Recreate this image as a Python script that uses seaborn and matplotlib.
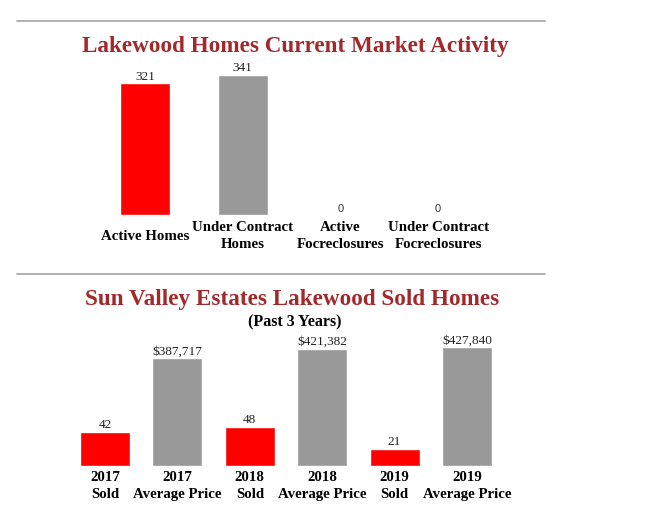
import pandas as pd
import matplotlib
matplotlib.use('Agg')
import matplotlib.pyplot as plt
import seaborn as sns
from matplotlib.lines import Line2D

# Data
market_labels = ["Active Homes", "Under Contract\nHomes", "Active\nFocreclosures", "Under Contract\nFocreclosures"]
market_values = [321, 341, 0, 0]
market_colors = ["#ff0000", "#999999", "#999999", "#999999"]

sold_labels = ["2017\nSold", "2018\nSold", "2019\nSold"]
sold_values = [42, 48, 21]
price_labels = ["2017\nAverage Price", "2018\nAverage Price", "2019\nAverage Price"]
price_values = [387717, 421382, 427840]
sold_order = ["2017\nSold", "2017\nAverage Price", "2018\nSold", "2018\nAverage Price",
              "2019\nSold", "2019\nAverage Price"]

W, H = 653, 520
TITLE_RED = "#a3282a"
SERIF = "Liberation Serif"

sns.set_theme(style="white")
plt.rcParams['font.family'] = [SERIF, 'DejaVu Sans']

fig = plt.figure(figsize=(W / 100, H / 100), dpi=100)
fig.patch.set_facecolor("white")


def px_axes(left, top, right, bottom):
    # pixel box -> figure fraction axes
    return fig.add_axes([left / W, 1 - bottom / H, (right - left) / W, (bottom - top) / H])


def clean(ax):
    for s in ax.spines.values():
        s.set_visible(False)
    ax.set_yticks([])
    ax.set_ylabel("")
    ax.set_xlabel("")
    ax.patch.set_alpha(0)
    ax.tick_params(axis="x", length=0)


# separator lines
for y in (21, 274):
    fig.add_artist(Line2D([17 / W, 545 / W], [1 - y / H, 1 - y / H], color="#aaaaaa", lw=1.3))

# ---- top chart
fig.text(295 / W, 1 - 46.5 / H, "Lakewood Homes Current Market Activity", ha="center", va="center",
         fontsize=16.7, fontweight="bold", color=TITLE_RED, family=SERIF)

df_m = pd.DataFrame({"cat": market_labels, "val": market_values})
ax1 = px_axes(96, 60, 487, 215)
sns.barplot(data=df_m, x="cat", y="val", hue="cat", palette=market_colors, legend=False,
            width=0.51, saturation=1, ax=ax1)
ax1.set_ylim(0, 155 / 0.41)
ax1.set_xlim(-0.5, 3.5)
clean(ax1)
for c in ax1.containers:
    txts = ax1.bar_label(c, padding=0.5, fontsize=9.5, color="#222222", family=SERIF)
    for t in txts:
        if t.get_text() == "0":
            t.set_family("Liberation Sans")
            t.set_fontsize(8)
            t.set_color("#333333")
ax1.tick_params(axis="x", pad=15.3)
for t in ax1.get_xticklabels():
    t.set_va("center")
    t.set_fontweight("bold")
    t.set_fontsize(10.7)
    t.set_color("black")
    t.set_linespacing(1.45)

# ---- bottom chart
fig.text(292 / W, 1 - 300 / H, "Sun Valley Estates Lakewood Sold Homes", ha="center", va="center",
         fontsize=16.7, fontweight="bold", color=TITLE_RED, family=SERIF)
fig.text(295 / W, 1 - 322.5 / H, "(Past 3 Years)", ha="center", va="center",
         fontsize=11.5, fontweight="bold", color="black", family=SERIF)

df_s = pd.DataFrame({"cat": sold_labels, "val": sold_values})
df_p = pd.DataFrame({"cat": price_labels, "val": price_values})

ax2 = px_axes(68.8, 330, 503.2, 466)
sns.barplot(data=df_s, x="cat", y="val", order=sold_order, color="#ff0000", width=0.69,
            saturation=1, ax=ax2)
ax2.set_ylim(0, 136 / 0.81)
ax2.set_xlim(-0.5, 5.5)
clean(ax2)
for c in ax2.containers:
    ax2.bar_label(c, padding=0.5, fontsize=9.5, color="#222222", family=SERIF)

ax3 = ax2.twinx()
sns.barplot(data=df_p, x="cat", y="val", order=sold_order, color="#999999", width=0.69,
            saturation=1, ax=ax3)
ax3.set_ylim(0, 136 / 2.78e-4)
ax3.set_xlim(-0.5, 5.5)
clean(ax3)
for c in ax3.containers:
    ax3.bar_label(c, labels=[f"${v:,.0f}" for v in price_values], padding=0.5,
                  fontsize=9.5, color="#222222", family=SERIF)

ax2.set_xticks(range(len(sold_order)))
ax2.set_xticklabels(sold_order)
ax2.tick_params(axis="x", pad=3.5)
for t in ax2.get_xticklabels():
    t.set_fontweight("bold")
    t.set_fontsize(10.7)
    t.set_color("black")
    t.set_linespacing(1.45)
ax3.tick_params(axis="x", labelbottom=False)

fig.savefig("out.png", dpi=100)
